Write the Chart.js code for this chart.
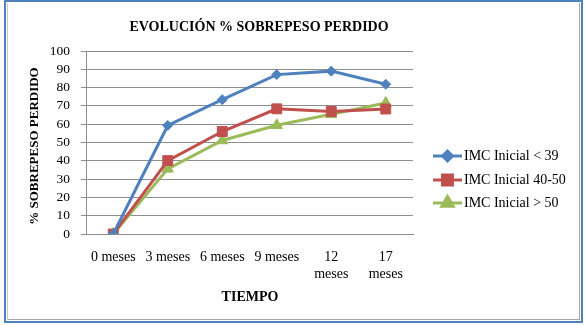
<!DOCTYPE html>
<html>
<head>
<meta charset="utf-8">
<script src="https://cdn.jsdelivr.net/npm/chart.js@4/dist/chart.umd.min.js"></script>
<style>
  html, body { margin: 0; padding: 0; background: #fff; }
  #wrap { position: relative; width: 585px; height: 325px; }
  #c { position: absolute; left: 0; top: 0; }
  #frame {
    position: absolute; left: 4px; top: 0; width: 575px; height: 319px;
    border: 2px solid #4F81BD; pointer-events: none;
  }
  #inner {
    position: absolute; left: 1px; top: 1px; right: 1px; bottom: 1px;
    border-left: 1px solid #c8c8c8; border-right: 1px solid #a6a6a6; border-bottom: 1px solid #a6a6a6;
  }
</style>
</head>
<body>
<div id="wrap">
  <canvas id="c" width="585" height="325"></canvas>
  <div id="frame"><div id="inner"></div></div>
</div>
<script>
// Categories (months since surgery) and % excess weight lost per initial BMI group
const categories = ['0 meses', '3 meses', '6 meses', '9 meses', ['12', 'meses'], ['17', 'meses']];
const imcMenor39 = [0, 59.3, 73.4, 87.1, 89.0, 81.8];
const imc40a50   = [0, 40.1, 56.0, 68.4, 67.0, 68.3];
const imcMayor50 = [0, 35.6, 51.1, 59.4, 65.4, 71.6];
const seriesNames = ['IMC Inicial < 39', 'IMC Inicial 40-50', 'IMC Inicial > 50'];
const yTicks = { min: 0, max: 100, step: 10 };

const SERIF = '"Liberation Serif", "Times New Roman", serif';

function ds(label, data, color, style, radius) {
  return {
    label, data,
    borderColor: color, backgroundColor: color,
    pointBackgroundColor: color, pointBorderColor: color,
    borderWidth: 3, pointStyle: style, pointRadius: radius, pointBorderWidth: 1,
    tension: 0
  };
}

// Titles and the line-with-marker legend on the right
const decorations = {
  id: 'decorations',
  afterDraw(chart) {
    const ctx = chart.ctx;
    ctx.save();
    ctx.fillStyle = '#000';
    ctx.textBaseline = 'middle';
    ctx.textAlign = 'center';
    ctx.font = 'bold 14px ' + SERIF;
    ctx.fillText('EVOLUCIÓN % SOBREPESO PERDIDO', 259, 27);
    ctx.font = 'bold 14px ' + SERIF;
    ctx.fillText('TIEMPO', 250, 297);
    ctx.save();
    ctx.translate(35, 146);
    ctx.rotate(-Math.PI / 2);
    ctx.font = 'bold 13px ' + SERIF;
    ctx.fillText('% SOBREPESO PERDIDO', 0, 0);
    ctx.restore();

    const rows = [156, 180, 203];
    chart.data.datasets.forEach((d, i) => {
      const y = rows[i];
      ctx.strokeStyle = d.borderColor;
      ctx.lineWidth = 3;
      ctx.beginPath();
      ctx.moveTo(433, y);
      ctx.lineTo(462, y);
      ctx.stroke();
      ctx.fillStyle = d.pointBackgroundColor;
      Chart.helpers.drawPoint(ctx, {
        pointStyle: d.pointStyle, radius: d.pointRadius, rotation: 0, borderWidth: 1
      }, 447.5, y);
      ctx.fillStyle = '#000';
      ctx.textAlign = 'left';
      ctx.font = '14px ' + SERIF;
      ctx.fillText(d.label, 464, y);
    });
    ctx.restore();
  }
};

new Chart(document.getElementById('c'), {
  type: 'line',
  data: {
    labels: categories,
    datasets: [
      ds(seriesNames[0], imcMenor39, '#4F81BD', 'rectRot', 5),
      ds(seriesNames[1], imc40a50, '#C0504D', 'rect', 7),
      ds(seriesNames[2], imcMayor50, '#9BBB59', 'triangle', 6.5)
    ]
  },
  options: {
    responsive: false,
    animation: false,
    devicePixelRatio: 1,
    layout: { padding: { top: 51, right: 172, left: 0, bottom: 0 } },
    plugins: { legend: { display: false }, title: { display: false }, tooltip: { enabled: false } },
    scales: {
      x: {
        offset: true,
        grid: { display: false },
        border: { display: true, color: '#8E8E8E', width: 1 },
        ticks: { color: '#000', font: { family: SERIF, size: 14 }, padding: 7, maxRotation: 0, autoSkip: false },
        afterFit(s) { s.height = 91; }
      },
      y: {
        min: yTicks.min, max: yTicks.max,
        grid: { color: '#8E8E8E', lineWidth: 1, tickLength: 5, drawTicks: true },
        border: { display: true, color: '#8E8E8E', width: 1 },
        ticks: { stepSize: yTicks.step, autoSkip: false, color: '#000', font: { family: SERIF, size: 13.5 }, padding: 11 },
        afterFit(s) { s.width = 86; }
      }
    }
  },
  plugins: [decorations]
});
</script>
</body>
</html>
